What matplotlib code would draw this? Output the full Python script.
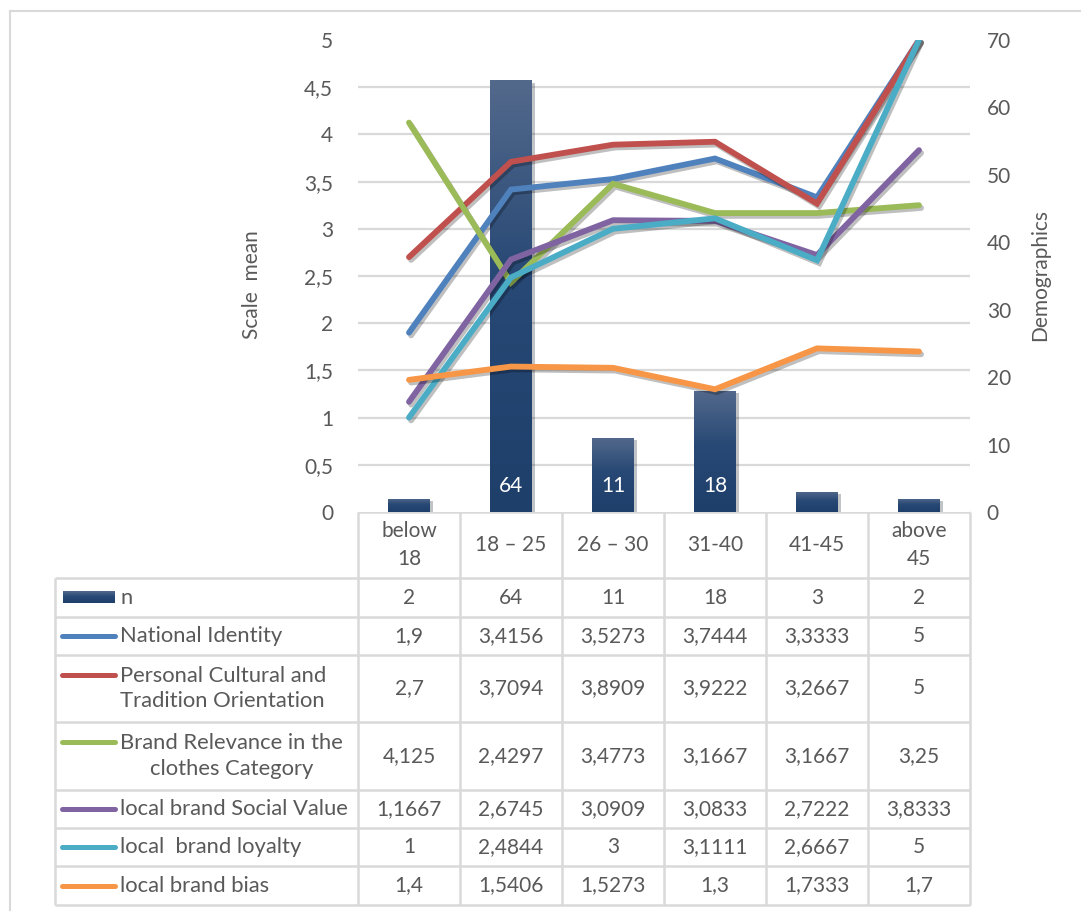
import numpy as np
import matplotlib
matplotlib.use('Agg')
from matplotlib import pyplot as plt
from matplotlib import patheffects as pe
from matplotlib.colors import LinearSegmentedColormap
from matplotlib.ticker import FuncFormatter, MultipleLocator

plt.rcParams['font.family'] = ['Lato', 'DejaVu Sans']

# age groups and sample size per group
age_groups = ['below\n18', '18 – 25', '26 – 30', '31-40', '41-45', 'above\n45']
n_values = [2, 64, 11, 18, 3, 2]

# scale means per age group
national_identity = [1.9, 3.4156, 3.5273, 3.7444, 3.3333, 5]
cultural_orientation = [2.7, 3.7094, 3.8909, 3.9222, 3.2667, 5]
brand_relevance = [4.125, 2.4297, 3.4773, 3.1667, 3.1667, 3.25]
social_value = [1.1667, 2.6745, 3.0909, 3.0833, 2.7222, 3.8333]
brand_loyalty = [1, 2.4844, 3, 3.1111, 2.6667, 5]
brand_bias = [1.4, 1.5406, 1.5273, 1.3, 1.7333, 1.7]

series_names = ['National Identity',
                'Personal Cultural and\nTradition Orientation',
                'Brand Relevance in the\nclothes Category',
                'local brand Social Value',
                'local  brand loyalty',
                'local brand bias']
series_values = [national_identity, cultural_orientation, brand_relevance,
                 social_value, brand_loyalty, brand_bias]
series_colors = ['#4f81bd', '#c0504d', '#9bbb59', '#8064a2', '#4bacc6', '#f79646']

TXT = '#595959'
GRID = '#d9d9d9'
FS = 15

W, H = 1081, 911
fig = plt.figure(figsize=(W / 100, H / 100), dpi=100)

# plot area in pixels
PX0, PX1, PY0, PY1 = 358, 970, 40, 512
rect = [PX0 / W, 1 - PY1 / H, (PX1 - PX0) / W, (PY1 - PY0) / H]

# bars (demographics) sit underneath, lines (scale mean) on top
ax_b = fig.add_axes(rect)
ax_l = fig.add_axes(rect, sharex=ax_b)
ax_l.patch.set_visible(False)

x = np.arange(len(age_groups))
ax_b.set_xlim(-0.5, len(age_groups) - 0.5)
ax_b.set_ylim(0, 70)
ax_l.set_ylim(0, 5)

comma = FuncFormatter(lambda v, p: ('%g' % v).replace('.', ','))

# gridlines every 7 demographics units = every 0,5 on the scale
ax_b.yaxis.set_major_locator(MultipleLocator(10))
ax_b.yaxis.set_minor_locator(MultipleLocator(7))
ax_b.grid(which='minor', axis='y', color=GRID, lw=1.6, zorder=0)
ax_b.set_axisbelow(True)
ax_b.yaxis.tick_right()
ax_b.tick_params(axis='y', which='both', length=0, labelsize=FS,
                 labelcolor=TXT, pad=12)
ax_b.tick_params(axis='x', length=0, labelbottom=False)

ax_l.yaxis.set_major_locator(MultipleLocator(0.5))
ax_l.yaxis.set_major_formatter(comma)
ax_l.tick_params(axis='y', length=0, labelsize=FS, labelcolor=TXT, pad=18)
ax_l.tick_params(axis='x', length=0, labelbottom=False)
ax_l.yaxis.tick_left()

for a in (ax_b, ax_l):
    for s in a.spines.values():
        s.set_visible(False)

cmap = LinearSegmentedColormap.from_list(
    'bar', [(0, '#1f3f6b'), (0.55, '#284975'), (1, '#53698c')])
grad = np.linspace(0, 1, 256).reshape(-1, 1)

bars = ax_b.bar(x, n_values, width=0.41, color='#24446f', zorder=2)
for b, n in zip(bars, n_values):
    b.set_path_effects([pe.SimplePatchShadow(offset=(2, -1.5), alpha=0.25),
                        pe.Normal()])
    im = ax_b.imshow(grad, extent=(b.get_x(), b.get_x() + b.get_width(), 0, n),
                     aspect='auto', cmap=cmap, origin='lower', zorder=2.1)
    im.set_clip_path(b)
    t = ax_b.annotate(str(n), (b.get_x() + b.get_width() / 2, 0),
                      xytext=(0, 18.5), textcoords='offset points',
                      ha='center', va='center', color='white', fontsize=FS,
                      zorder=3)
    t.set_clip_path(b)
ax_b.set_xlim(-0.5, len(age_groups) - 0.5)
ax_b.set_ylim(0, 70)

shadow = [pe.SimpleLineShadow(offset=(1.5, -2), alpha=0.25, shadow_color='k'),
          pe.Normal()]
for vals, c in zip(series_values, series_colors):
    ax_l.plot(x, vals, color=c, lw=4.2, solid_capstyle='round',
              solid_joinstyle='miter', path_effects=shadow, zorder=3)

fig.text(252 / W, 1 - 285 / H, 'Scale  mean', rotation=90, ha='center',
         va='center', fontsize=FS, color=TXT)
fig.text(1040 / W, 1 - 275 / H, 'Demographics', rotation=90, ha='center',
         va='center', fontsize=FS, color=TXT)

# data table drawn in pixel coordinates
tab = fig.add_axes([0, 0, 1, 1], zorder=-1)
tab.set_xlim(0, W)
tab.set_ylim(H, 0)
tab.axis('off')

col_edges = [PX0 + i * (PX1 - PX0) / len(age_groups) for i in range(len(age_groups) + 1)]
col_mid = [(a + b) / 2 for a, b in zip(col_edges[:-1], col_edges[1:])]
row_edges = [578, 617, 655, 722, 790, 828, 866, 905]
LX = 55

# outer chart border
tab.plot([10, 10], [11, H], color=GRID, lw=1.5)
tab.plot([10, W], [11, 11], color=GRID, lw=1.5)

lk = dict(color=GRID, lw=1.8, solid_capstyle='butt')
tab.plot([PX0, PX1], [PY1, PY1], **lk)
for xe in col_edges:
    tab.plot([xe, xe], [PY1, row_edges[-1]], **lk)
for ye in row_edges:
    tab.plot([LX, PX1], [ye, ye], **lk)
tab.plot([LX, LX], [row_edges[0], row_edges[-1]], **lk)

for xm, g in zip(col_mid, age_groups):
    tab.text(xm, 545, g, ha='center', va='center', fontsize=FS, color=TXT,
             linespacing=1.45)

fmt = lambda v: ('%g' % v).replace('.', ',')
rows = [n_values] + series_values
for i, vals in enumerate(rows):
    yc = (row_edges[i] + row_edges[i + 1]) / 2
    for xm, v in zip(col_mid, vals):
        tab.text(xm, yc, fmt(v), ha='center', va='center', fontsize=FS,
                 color=TXT)

# legend keys and row names
NFS = 15.8
yc = (row_edges[0] + row_edges[1]) / 2
sw = tab.imshow(grad, extent=(63, 115, yc + 6, yc - 6), aspect='auto',
                cmap=cmap, origin='lower')
tab.set_xlim(0, W)
tab.set_ylim(H, 0)
tab.text(120, yc + 1, 'n', ha='left', va='center', fontsize=NFS, color=TXT)
for i, (name, c) in enumerate(zip(series_names, series_colors)):
    top, bot = row_edges[i + 1], row_edges[i + 2]
    yc = (top + bot) / 2
    multi = '\n' in name
    ky = yc - 14 if multi else yc
    tab.plot([62, 115], [ky, ky], color=c, lw=3.6, solid_capstyle='round')
    align = 'center' if name.startswith('Brand') else 'left'
    tab.text(120, yc, name, ha='left', va='center', fontsize=NFS, color=TXT,
             linespacing=1.35, multialignment=align)

fig.savefig('out.png', dpi=100)
